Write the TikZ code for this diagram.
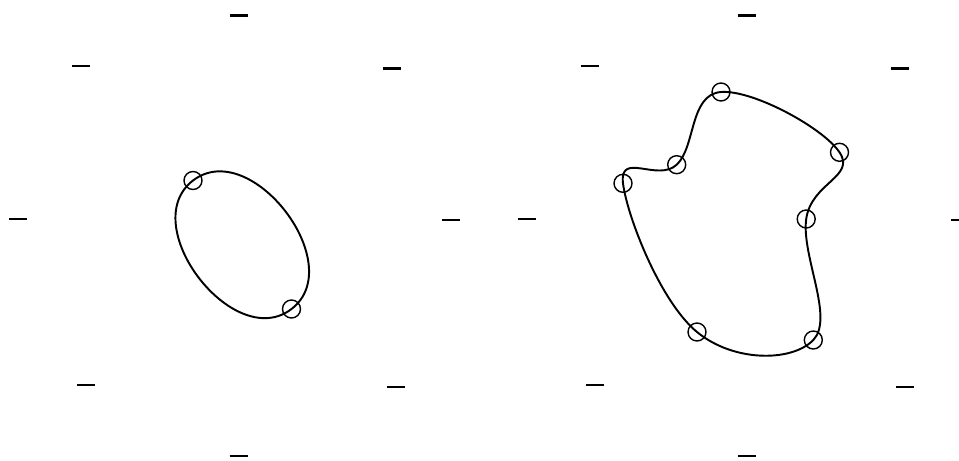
\documentclass[tikz,border=0pt]{standalone}

\begin{document}
\begin{tikzpicture}[
    x = 0.02cm, y = 0.02cm,
    knot/.style  = {circle, draw, line width=0.8pt, minimum size=0.36cm, inner sep=0pt},
    curve/.style = {line width=1.1pt},
    tick/.style  = {line width=1.4pt}
  ]
  \useasboundingbox (0,0) rectangle (959,-460);

  \foreach \dx in {0,508.5}
    \foreach \x/\y in {238.5/-15.5, 81/-66, 391.5/-68.5, 18/-219,
                       451/-220, 86/-385, 396/-387, 238.5/-456}
      \draw[tick] (\dx+\x-9,\y) -- (\dx+\x+9,\y);

  \node[knot] (a) at (193,-180.5) {};
  \node[knot] (b) at (291.5,-309) {};
  \draw[curve] (a.center) .. controls +(57.8,44.3) and +(57.8,44.3) .. (b.center)
               .. controls +(-57.8,-44.3) and +(-57.8,-44.3) .. (a.center);

  \node[knot] (p1) at (721,-92) {};
  \node[knot] (p2) at (839.5,-152.3) {};
  \node[knot] (p3) at (806.2,-219) {};
  \node[knot] (p4) at (813.3,-340) {};
  \node[knot] (p5) at (697,-332) {};
  \node[knot] (p6) at (623,-183.3) {};
  \node[knot] (p7) at (676.7,-164.7) {};
  \draw[curve] plot[smooth cycle, tension=0.7] coordinates
    {(p1.center) (p2.center) (p3.center) (p4.center) (p5.center) (p6.center) (p7.center)};
\end{tikzpicture}
\end{document}
